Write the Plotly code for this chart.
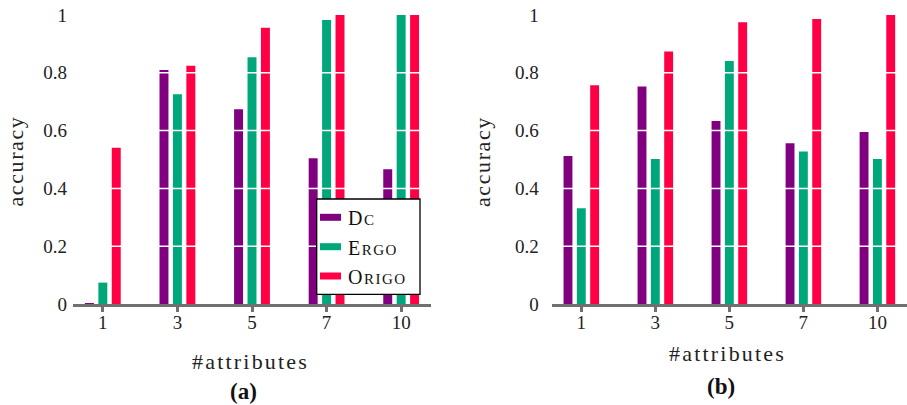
import plotly.graph_objects as go

categories = ["1", "3", "5", "7", "10"]
series_names = ["Dc", "Ergo", "Origo"]
dc_a = [0.003, 0.81, 0.674, 0.504, 0.466]
ergo_a = [0.074, 0.726, 0.854, 0.983, 1.0]
origo_a = [0.541, 0.824, 0.956, 1.0, 1.0]
dc_b = [0.512, 0.753, 0.633, 0.556, 0.595]
ergo_b = [0.331, 0.502, 0.841, 0.528, 0.502]
origo_b = [0.757, 0.874, 0.975, 0.986, 1.0]
y_ticks = [0, 0.2, 0.4, 0.6, 0.8, 1.0]
y_ticktext = ["0", "0.2", "0.4", "0.6", "0.8", "1"]

colors = {"Dc": "#80007f", "Ergo": "#00a77a", "Origo": "#ff0044"}
FONT = "'Liberation Serif', Tinos, 'Times New Roman', Times, 'DejaVu Serif', serif"
W, H = 907, 405

def px(x):
    return x / W

def py(y):
    return 1 - y / H

def spaced(t, ls):
    return f"<span style='letter-spacing:{ls}px'>{t}</span>"

fig = go.Figure()
for name, vals in zip(series_names, [dc_a, ergo_a, origo_a]):
    fig.add_trace(go.Bar(x=categories, y=vals, name=name, marker_color=colors[name],
                         marker_line_width=0, xaxis="x", yaxis="y", showlegend=False))
for name, vals in zip(series_names, [dc_b, ergo_b, origo_b]):
    fig.add_trace(go.Bar(x=categories, y=vals, name=name, marker_color=colors[name],
                         marker_line_width=0, xaxis="x2", yaxis="y2", showlegend=False))

ydom = [py(304), py(15)]
xcommon = dict(type="category", categoryorder="array", categoryarray=categories,
               range=[-0.4, 4.4], showgrid=False, zeroline=False, automargin=False,
               showline=True, linecolor="#707070", linewidth=3,
               ticks="outside", ticklen=5, tickwidth=2.5, tickcolor="#707070",
               ticklabelstandoff=-6,
               tickfont=dict(family=FONT, size=19, color="#222"), fixedrange=True)
ycommon = dict(range=[0, 1.0], tickvals=y_ticks, ticktext=y_ticktext, showgrid=False,
               zeroline=False, showline=False, ticks="", automargin=False,
               tickfont=dict(family=FONT, size=19, color="#222"), domain=ydom)

fig.update_layout(
    width=W, height=H, margin=dict(l=0, r=0, t=0, b=0, pad=0), autosize=False,
    paper_bgcolor="white", plot_bgcolor="white",
    barmode="group", bargap=0.46, bargroupgap=0.333,
    xaxis=dict(domain=[px(73), px(431)], anchor="y", **xcommon),
    yaxis=dict(anchor="x", ticklabelstandoff=5, **ycommon),
    xaxis2=dict(domain=[px(551.7), 1.0], anchor="y2", **xcommon),
    yaxis2=dict(anchor="x2", ticklabelstandoff=12, **ycommon),
    showlegend=False,
)

shapes = []
for xr, yr in [("x domain", "y"), ("x2 domain", "y2")]:
    for g in y_ticks[1:-1]:
        shapes.append(dict(type="line", xref=xr, yref=yr, x0=0, x1=1, y0=g, y1=g,
                           line=dict(color="white", width=1.5), layer="above"))

# legend box (panel a)
shapes.append(dict(type="rect", xref="paper", yref="paper", x0=px(316.7), x1=px(420),
                   y0=py(294.3), y1=py(199), fillcolor="white",
                   line=dict(color="black", width=1.3), layer="above"))
legend_y = [217.3, 246.7, 276]
for name, ly in zip(series_names, legend_y):
    shapes.append(dict(type="rect", xref="paper", yref="paper", x0=px(320), x1=px(341),
                       y0=py(ly + 3.5), y1=py(ly - 3.5), fillcolor=colors[name],
                       line=dict(width=0), layer="above"))

fig.update_layout(shapes=shapes)

def smallcaps(word, big=20, small=15):
    return (f"<span style='font-size:{big}px;letter-spacing:1.5px'>{word[0]}</span>"
            f"<span style='font-size:{small}px;letter-spacing:1.5px'>{word[1:].upper()}</span>")

annotations = []
for name, ly in zip(series_names, legend_y):
    annotations.append(dict(xref="paper", yref="paper", x=px(346), y=py(ly + 1),
                            xanchor="left", yanchor="middle", showarrow=False,
                            text=smallcaps(name), font=dict(family=FONT, size=20, color="#111")))

for cx, ty, lx, sub, suby in [(250, 361, 15.5, "(a)", 391), (727, 353, 483, "(b)", 386)]:
    annotations.append(dict(xref="paper", yref="paper", x=px(cx), y=py(ty), xanchor="center",
                            yanchor="middle", showarrow=False, text=spaced("#attributes", 2.2),
                            font=dict(family=FONT, size=22, color="#222")))
    annotations.append(dict(xref="paper", yref="paper", x=px(lx), y=py(161), xanchor="center",
                            yanchor="middle", showarrow=False, text=spaced("accuracy", 1.6),
                            textangle=-90, font=dict(family=FONT, size=22, color="#222")))
    annotations.append(dict(xref="paper", yref="paper", x=px(cx - 6), y=py(suby), xanchor="center",
                            yanchor="middle", showarrow=False, text=f"<b>{sub}</b>",
                            font=dict(family=FONT, size=23, color="#111")))

fig.update_layout(annotations=annotations)
fig.write_html("out.html")
